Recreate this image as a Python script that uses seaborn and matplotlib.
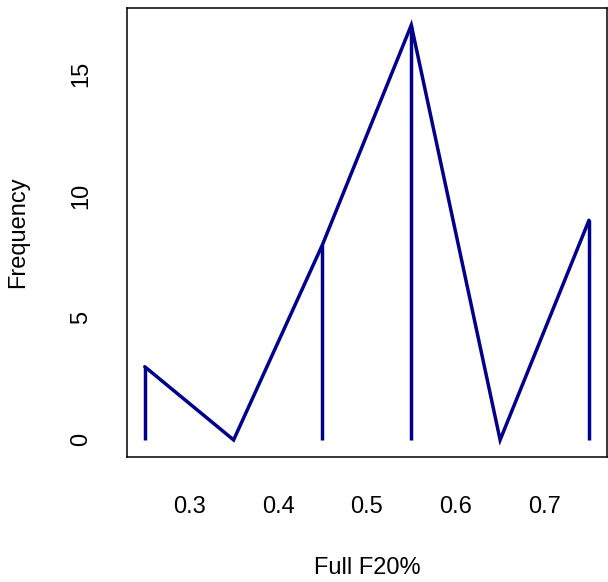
import numpy as np
import pandas as pd
import matplotlib
matplotlib.use("Agg")
import matplotlib.pyplot as plt
import seaborn as sns

# frequency polygon of Full F20% (bin midpoints and counts)
midpoints = [0.25, 0.35, 0.45, 0.55, 0.65, 0.75]
counts = [3, 0, 8, 17, 0, 9]
x_ticks = [0.3, 0.4, 0.5, 0.6, 0.7]
y_ticks = [0, 5, 10, 15]

df = pd.DataFrame({"mid": midpoints, "freq": counts})

sns.set_style("white")
plt.rcParams["font.family"] = ["Liberation Sans", "DejaVu Sans"]
plt.rcParams["font.size"] = 17

fig = plt.figure(figsize=(6.08, 5.82), dpi=100)
ax = fig.add_axes([0.2089, 0.2156, 0.789, 0.7698])

line_col = "#00008B"
sns.lineplot(data=df, x="mid", y="freq", sort=False, color=line_col,
             linewidth=2.5, ax=ax, solid_joinstyle="miter")
ax.vlines(df["mid"], 0, df["freq"], color=line_col, linewidth=2.5)

ax.set_xlim(0.23, 0.77)
ax.set_ylim(-0.68, 17.68)
ax.set_xticks(x_ticks)
ax.set_xticklabels([f"{t:.1f}" for t in x_ticks])
ax.set_yticks(y_ticks)
ax.set_yticklabels([str(t) for t in y_ticks], rotation=90, va="center")

for s in ax.spines.values():
    s.set_color("black")
    s.set_linewidth(1.1)

ax.tick_params(axis="both", direction="out", length=11.5, width=1.1,
               color="black", labelcolor="black", labelsize=17)
ax.tick_params(axis="x", pad=17)
ax.tick_params(axis="y", pad=13.5)

ax.set_xlabel("Full F20%", fontsize=17, va="center", color="black")
ax.set_ylabel("Frequency", fontsize=17, va="center", color="black")
ax.xaxis.set_label_coords(0.5, -0.249)
ax.yaxis.set_label_coords(-0.227, 0.5)

fig.savefig("out.png", dpi=100)
plt.close(fig)
